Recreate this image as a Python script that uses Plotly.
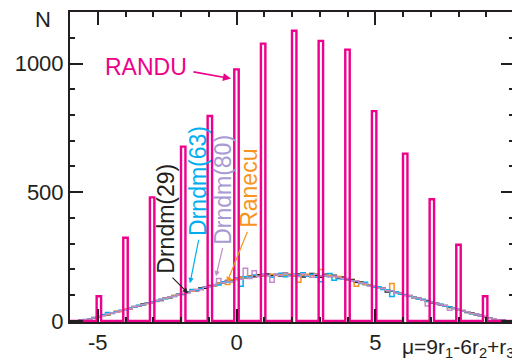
import numpy as np
import plotly.graph_objects as go

# ---------------- data ----------------
bin_lo, bin_hi, n_bins = -6.0, 10.0, 100

drndm29 = [0, 1, 3, 4, 9, 11, 15, 23, 24, 31,
           37, 38, 46, 47, 56, 57, 66, 70, 71, 80,
           79, 89, 90, 99, 104, 103, 113, 118, 117, 128,
           127, 138, 137, 147, 146, 157, 160, 161, 170, 168,
           176, 172, 180, 175, 183, 176, 181, 174, 186, 179,
           175, 183, 171, 180, 185, 176, 170, 182, 173, 178,
           165, 171, 160, 161, 150, 153, 141, 140, 133, 128,
           127, 112, 117, 110, 108, 99, 99, 90, 89, 80,
           80, 70, 70, 61, 60, 52, 50, 43, 41, 33,
           31, 24, 22, 15, 13, 7, 5, 3, 1, 0]

drndm63 = [0, 1, 2, 6, 7, 13, 17, 25, 33, 29,
           36, 42, 43, 51, 53, 61, 62, 69, 75, 77,
           84, 86, 94, 95, 103, 104, 112, 122, 119, 125,
           133, 133, 141, 140, 152, 151, 150, 168, 135, 172,
           171, 179, 174, 182, 177, 170, 180, 185, 172, 179,
           182, 176, 187, 174, 181, 170, 152, 176, 184, 158,
           168, 163, 164, 156, 155, 146, 150, 137, 131, 133,
           122, 121, 95, 113, 104, 103, 95, 92, 85, 84,
           76, 74, 67, 65, 57, 55, 48, 46, 38, 36,
           28, 27, 19, 18, 11, 9, 4, 3, 1, 0]

drndm80 = [0, 1, 2, 5, 7, 12, 17, 20, 27, 31,
           34, 41, 45, 48, 55, 58, 64, 69, 72, 79,
           81, 88, 93, 95, 102, 108, 109, 117, 122, 121,
           131, 134, 140, 165, 147, 155, 150, 165, 162, 205,
           165, 195, 172, 180, 176, 150, 182, 177, 184, 175,
           180, 172, 183, 177, 170, 181, 175, 178, 172, 175,
           169, 165, 166, 155, 156, 147, 146, 136, 137, 127,
           126, 118, 117, 108, 108, 99, 98, 90, 89, 80,
           58, 72, 70, 62, 60, 42, 50, 45, 39, 36,
           29, 27, 20, 17, 11, 9, 4, 3, 1, 0]

ranecu = [0, 1, 2, 4, 8, 13, 15, 22, 25, 32,
          38, 36, 47, 48, 53, 60, 62, 67, 74, 76,
          83, 88, 91, 98, 100, 107, 110, 115, 122, 124,
          131, 134, 138, 146, 148, 142, 160, 162, 168, 170,
          175, 177, 176, 179, 176, 181, 177, 180, 175, 182,
          177, 150, 179, 181, 176, 183, 200, 175, 178, 172,
          173, 166, 164, 157, 135, 150, 143, 140, 134, 131,
          124, 121, 146, 110, 107, 102, 96, 93, 86, 83,
          77, 74, 67, 64, 58, 55, 48, 45, 39, 36,
          29, 27, 20, 17, 12, 8, 5, 2, 1, 0]

other_gen = [0, 1, 2, 4, 8, 13, 16, 21, 25, 31,
             35, 39, 45, 49, 53, 59, 64, 68, 72, 78,
             83, 87, 91, 97, 102, 106, 110, 116, 121, 125,
             129, 135, 140, 144, 148, 154, 159, 163, 166, 171,
             175, 176, 178, 177, 179, 178, 177, 180, 178, 177,
             179, 176, 178, 180, 177, 179, 176, 177, 175, 174,
             170, 168, 162, 159, 153, 150, 143, 140, 134, 131,
             124, 121, 115, 112, 105, 102, 96, 93, 86, 83,
             77, 74, 67, 64, 58, 55, 48, 45, 39, 36,
             29, 27, 20, 17, 11, 9, 4, 3, 1, 0]

randu_mu = [-5, -4, -3, -2, -1, 0, 1, 2, 3, 4, 5, 6, 7, 8, 9]
randu_n = [96, 323, 480, 677, 796, 977, 1077, 1127, 1088, 1054, 815, 650, 473, 296, 96]

x_tickvals = [-5, 0, 5]
x_ticktext = ["-5", "0", "5"]
y_tickvals = [0, 500, 1000]
y_ticktext = ["0", "500", "1000"]

# ---------------- styling ----------------
PINK = "#EC008C"
CYAN = "#00AEEF"
LAV_TXT = "#A89AD2"
LAV = "#C48CC8"
ORANGE = "#F7941D"
BLACK = "#231F20"
GREEN = "#00A651"
FONT = "Liberation Sans, Arial, sans-serif"

OFF = 8  # page body margin
W, H = 520, 363
ML, MR, MT, MB = 62, 14, 2, 49
PW, PH = W - ML - MR, H - MT - MB

edges = np.linspace(bin_lo, bin_hi, n_bins + 1)
bw = (bin_hi - bin_lo) / n_bins


def step_y(counts):
    c = np.asarray(counts, dtype=float)
    return np.append(c, c[-1])


randu_counts = np.zeros(n_bins)
for m, n in zip(randu_mu, randu_n):
    randu_counts[int(np.floor((m - bin_lo) / bw + 1e-6))] = n

fig = go.Figure()
for vals, col, lw in [(other_gen, GREEN, 1.3), (drndm29, BLACK, 1.4), (ranecu, ORANGE, 1.5),
                      (drndm63, CYAN, 1.5), (drndm80, LAV, 1.5)]:
    fig.add_trace(go.Scatter(x=edges, y=step_y(vals), mode="lines",
                             line=dict(color=col, width=lw, shape="hv"),
                             hoverinfo="skip", showlegend=False))
fig.add_trace(go.Scatter(x=edges, y=step_y(randu_counts), mode="lines",
                         line=dict(color=PINK, width=2.4, shape="hv"),
                         hoverinfo="skip", showlegend=False))


def px(x):
    return (x - OFF - ML) / PW


def py(y):
    return (MT + PH - (y - OFF)) / PH


ann = []


def text(x, y, s, col, size=23, angle=0, xanchor="center"):
    ann.append(dict(x=px(x), y=py(y), xref="paper", yref="paper", text=s,
                    showarrow=False, textangle=angle, xanchor=xanchor, yanchor="middle",
                    font=dict(family=FONT, size=size, color=col)))


def arrow(tail, tip, col, w=1.2, size=0.9):
    ann.append(dict(x=px(tip[0]), y=py(tip[1]), xref="paper", yref="paper", text="",
                    showarrow=True, ax=tail[0] - tip[0], ay=tail[1] - tip[1],
                    arrowhead=2, arrowsize=size, arrowwidth=w, arrowcolor=col))


text(43, 18, "N", BLACK, 22)
text(146, 65, "RANDU", PINK, 23)
arrow((192, 70), (231, 77), PINK, 1.6, 1.0)
text(166, 218, "Drndm(29)", BLACK, 23, -90)
text(198, 180, "Drndm(63)", CYAN, 23, -90)
text(223, 189, "Drndm(80)", LAV_TXT, 23, -90)
text(249, 188, "Ranecu", ORANGE, 23, -90)
arrow((171, 276), (188, 293), BLACK)
arrow((199, 238), (190, 283), CYAN)
arrow((223, 246), (216, 276), LAV)
arrow((248, 230), (227, 282), ORANGE)
text(400, 348, "μ=9r<sub>1</sub>-6r<sub>2</sub>+r<sub>3</sub>", BLACK, 21, xanchor="left")

axis_common = dict(showline=True, linewidth=2, linecolor=BLACK, mirror="allticks",
                   ticks="inside", ticklen=13, tickwidth=2, tickcolor=BLACK,
                   showgrid=False, zeroline=False,
                   tickfont=dict(family=FONT, size=22, color=BLACK))

fig.update_layout(
    width=W, height=H,
    margin=dict(l=ML, r=MR, t=MT, b=MB),
    paper_bgcolor="white", plot_bgcolor="white",
    showlegend=False,
    xaxis=dict(range=[bin_lo, bin_hi], tickmode="array", tickvals=x_tickvals,
               ticktext=x_ticktext,
               minor=dict(tickmode="linear", tick0=0, dtick=1, ticks="inside",
                          ticklen=5, tickwidth=2, tickcolor=BLACK),
               **axis_common),
    yaxis=dict(range=[-4, 1200], tickmode="array", tickvals=y_tickvals,
               ticktext=y_ticktext,
               minor=dict(tickmode="linear", tick0=0, dtick=100, ticks="inside",
                          ticklen=5, tickwidth=2, tickcolor=BLACK),
               **axis_common),
    annotations=ann,
)

fig.write_html("out.html")
